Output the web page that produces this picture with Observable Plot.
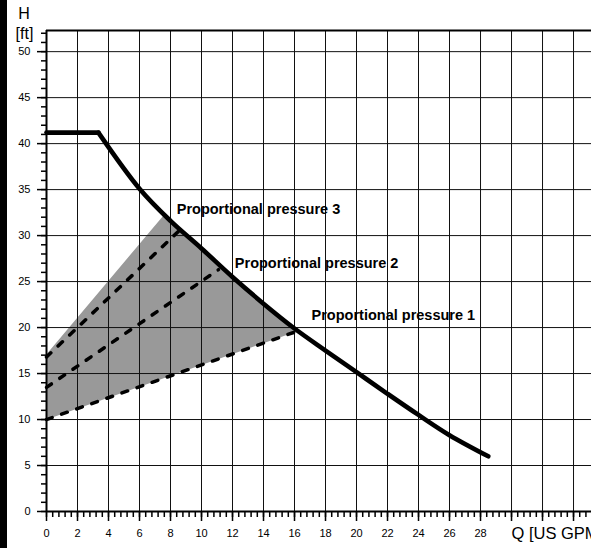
<!DOCTYPE html>
<html>
<head>
<meta charset="utf-8">
<script src="https://cdn.jsdelivr.net/npm/d3@7"></script>
<script src="https://cdn.jsdelivr.net/npm/@observablehq/plot@0.6"></script>
<style>
  html, body { margin: 0; padding: 0; background: #fff; overflow: hidden; }
  #strip { position: absolute; left: 0; top: 0; width: 7px; height: 548px; background: #000; z-index: 10; }
</style>
</head>
<body>
<div id="strip"></div>
<div id="chart"></div>
<script>
// Pump curve (Q in US GPM, H in ft): flat section, then falling section
const flatQ = [0, 3.35];
const flatH = [41.2, 41.2];
const curveQ = [3.35, 6, 8, 10, 12, 14, 16, 18, 20, 22, 24, 26, 28.5];
const curveH = [41.2, 35.1, 31.6, 28.6, 25.5, 22.6, 19.9, 17.5, 15.15, 12.8, 10.5, 8.3, 6];

// Shaded proportional-pressure region (polygon vertices)
const shadeQ = [0, 0, 7.6, 8, 10, 12, 14, 16, 16];
const shadeH = [10, 17.1, 32.3, 31.6, 28.6, 25.5, 22.6, 19.9, 19.5];

// Proportional pressure lines
const pp1Q = [0, 16],   pp1H = [10, 19.5];
const pp2Q = [0, 11.1], pp2H = [13.5, 26.3];
const pp3Q = [0, 8.6],  pp3H = [16.8, 30.6];

// Annotation labels and their anchor values
const labelText = ["Proportional pressure 3", "Proportional pressure 2", "Proportional pressure 1"];
const labelQ = [8.4, 12.15, 17.1];
const labelH = [32.9, 26.95, 21.3];

// Axes
const xDomain = [0, 35.16];
const yDomain = [0, 52.3];
const xMajor = d3.range(0, 35, 2);
const xMinor = d3.range(0, 35.2, 0.4).map(v => +v.toFixed(1));
const yMajor = d3.range(0, 51, 5);
const yMinor = d3.range(0, 53, 1);
const xGrid = d3.range(2, 35, 2);
const yGrid = d3.range(5, 51, 5);
const xLabelMax = 28;
const yTitle = ["H", "[ft]"];
const xTitle = "Q [US GPM]";

const pts = (qs, hs) => qs.map((q, i) => ({q, h: hs[i]}));
const dashStyle = {stroke: "#000", strokeWidth: 3.5, strokeDasharray: "6,10", strokeLinecap: "round"};
const curveStyle = {stroke: "#000", strokeWidth: 4.6, strokeLinejoin: "round", strokeLinecap: "round"};

const chart = Plot.plot({
  width: 591,
  height: 548,
  marginLeft: 46,
  marginRight: 0,
  marginTop: 30,
  marginBottom: 37,
  style: {fontFamily: "'Liberation Sans', Arial, sans-serif", fontSize: "11px", background: "#fff", overflow: "visible"},
  x: {domain: xDomain},
  y: {domain: yDomain},
  marks: [
    Plot.line(pts(shadeQ, shadeH), {x: "q", y: "h", fill: "#999", stroke: "none"}),
    Plot.ruleX(xGrid, {stroke: "#111", strokeWidth: 1}),
    Plot.ruleY(yGrid, {stroke: "#111", strokeWidth: 1}),
    Plot.ruleY([yDomain[1]], {stroke: "#000", strokeWidth: 2}),
    Plot.ruleX([0], {stroke: "#000", strokeWidth: 2}),
    Plot.ruleY([0], {stroke: "#000", strokeWidth: 2}),
    Plot.axisY(yMinor, {tickSize: 5, tickFormat: () => "", label: null, strokeWidth: 1.5}),
    Plot.axisY(yMajor, {tickSize: 9, tickPadding: 7, label: null, strokeWidth: 1.5, fontSize: 11, fill: "#000"}),
    Plot.axisX(xMinor, {tickSize: 6, tickFormat: () => "", label: null, strokeWidth: 1.5}),
    Plot.axisX(xMajor, {tickSize: 10, tickPadding: 8, label: null, strokeWidth: 1.5, fontSize: 11, fill: "#000",
      tickFormat: d => d <= xLabelMax ? String(d) : ""}),
    Plot.line(pts(pp1Q, pp1H), {x: "q", y: "h", ...dashStyle}),
    Plot.line(pts(pp2Q, pp2H), {x: "q", y: "h", ...dashStyle}),
    Plot.line(pts(pp3Q, pp3H), {x: "q", y: "h", ...dashStyle}),
    Plot.line(pts(flatQ, flatH), {x: "q", y: "h", ...curveStyle}),
    Plot.line(pts(curveQ, curveH), {x: "q", y: "h", curve: "catmull-rom", ...curveStyle}),
    Plot.text(labelText.map((t, i) => ({t, q: labelQ[i], h: labelH[i]})), {x: "q", y: "h", text: "t", textAnchor: "start", fontSize: 14.5, fontWeight: "bold", fill: "#000"}),
    Plot.text([yTitle[0]], {frameAnchor: "top-left", dx: -22.5, dy: -17, textAnchor: "middle", lineAnchor: "middle", fontSize: 16, fill: "#000"}),
    Plot.text([yTitle[1]], {frameAnchor: "top-left", dx: -22, dy: 3, textAnchor: "middle", lineAnchor: "middle", fontSize: 16, fill: "#000"}),
    Plot.text([xTitle], {frameAnchor: "bottom-right", dx: -80, dy: 22.5, textAnchor: "start", lineAnchor: "middle", fontSize: 16.5, fill: "#000"})
  ]
});
document.getElementById("chart").appendChild(chart);
</script>
</body>
</html>
